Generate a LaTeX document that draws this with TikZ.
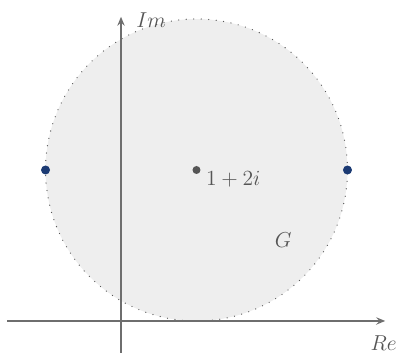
\documentclass[tikz,border=0pt]{standalone}
\usepackage{amsmath,amssymb}
\usepackage{tikz}
\usepackage{xcolor}
\usetikzlibrary{arrows.meta,positioning,calc}
\definecolor{region}{HTML}{EEEEEE}
\definecolor{axis}{HTML}{6E6E6E}
\definecolor{label}{HTML}{555555}
\definecolor{pole}{HTML}{1B3A73}
\newcommand{\biglbl}[1]{\scalebox{1.5}{#1}}
\tikzset{
  axisline/.style={-{Stealth[length=3.2mm,width=2.6mm,inset=1.2mm]}, line width=1.4pt, draw=axis},
  lbl/.style={text=label, font=\Large, inner sep=1pt},
  dotpt/.style={circle, fill=#1, inner sep=0pt, minimum size=9pt}
}
\begin{document}
\begin{tikzpicture}[x=75.5pt,y=75.5pt]
        \useasboundingbox (-1.603,-0.450) rectangle (3.709,4.252);
        % region G
        \fill[region] (1,2) circle (2);
        \draw[draw=axis!80!black, line width=1.3pt, line cap=round, dash pattern=on 0pt off 7.5pt] (1,2) circle (2);
        % axes
        \coordinate (xs) at (-1.51,0);
        \coordinate (xe) at (3.50,0);
        \coordinate (ys) at (0,-0.424);
        \coordinate (ye) at (0,4.03);
        \draw[axisline] (xs) -- (xe);
        \draw[axisline] (ys) -- (ye);
        \node[lbl] (re) at (3.48,-0.29) {\biglbl{$Re$}};
        \node[lbl] (im) at (0.40,3.99) {\biglbl{$Im$}};
        % points
        \node[dotpt=label, minimum size=8pt] (c) at (1,2) {};
        \node[lbl, anchor=south west] (clbl) at (1.11,1.76) {\biglbl{$1+2i$}};
        \node[dotpt=pole] (p1) at (-1,2) {};
        \node[dotpt=pole] (p2) at (3,2) {};
        \node[lbl] (g) at (2.15,1.07) {\biglbl{$G$}};
      \end{tikzpicture}
\end{document}
